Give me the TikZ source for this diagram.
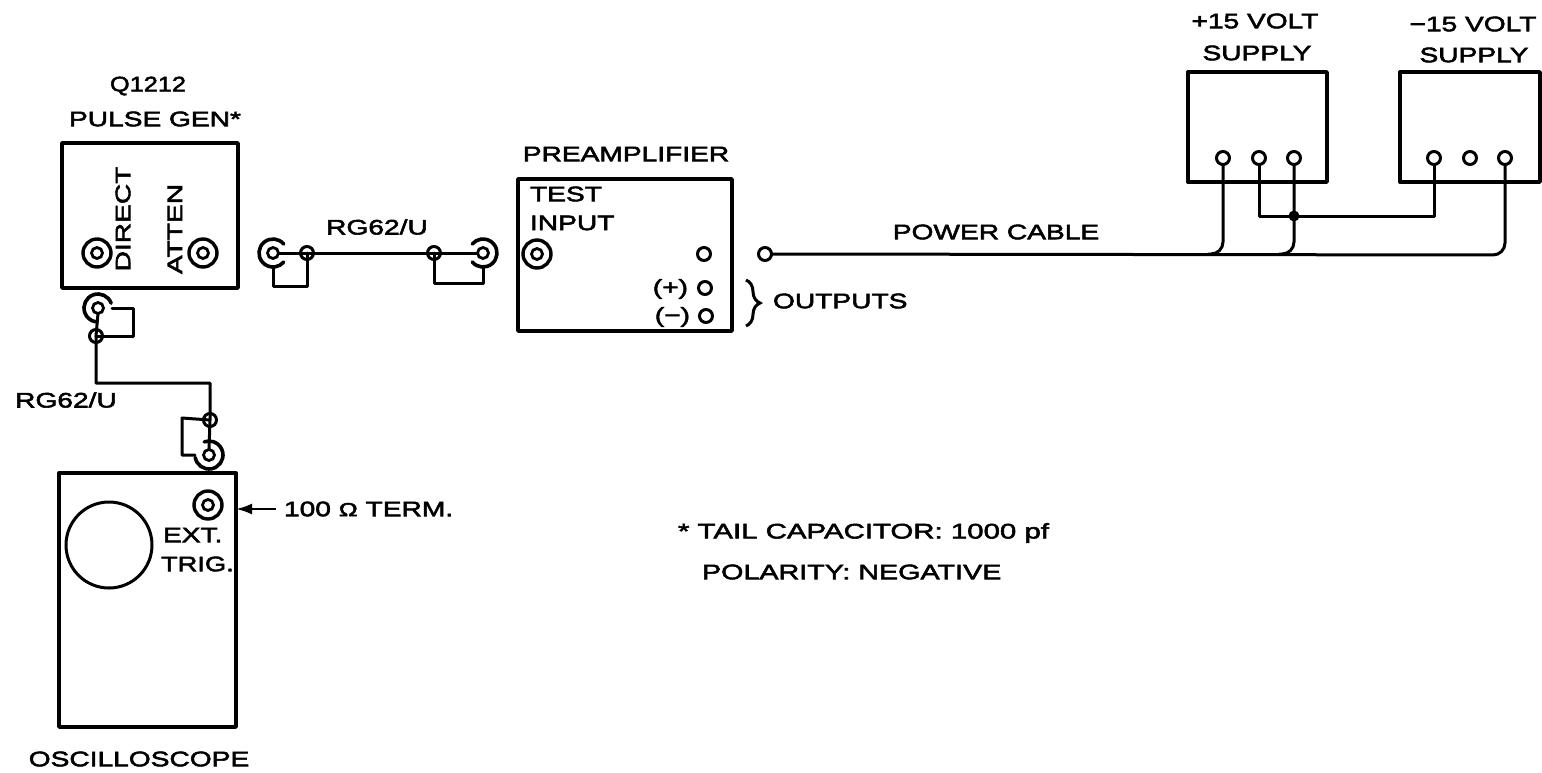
\documentclass[tikz,border=0pt]{standalone}
\usepackage{fontspec}
\setmainfont[FakeStretch=1.34,FakeBold=2.6]{Liberation Sans}
\usetikzlibrary{arrows.meta,decorations.pathreplacing}
\tikzset{
  wire/.style={line width=3pt,line cap=round,line join=round},
  box/.style={draw,line width=3.4pt,rectangle,inner sep=0pt,outer sep=0pt,line join=round},
  pinc/.style={draw,circle,line width=3pt,inner sep=0pt,outer sep=0pt,minimum size=13pt},
  jackin/.style={draw,circle,line width=2.8pt,inner sep=0pt,outer sep=0pt,minimum size=11pt},
  jackout/.style={draw,circle,line width=3.4pt,inner sep=0pt,outer sep=0pt,minimum size=28pt},
  ringn/.style={circle,inner sep=0pt,outer sep=0pt,minimum size=28pt},
  lab/.style={inner sep=0pt,outer sep=0pt,font=\fontsize{21}{24}\selectfont},
  dotn/.style={circle,fill,inner sep=0pt,minimum size=11pt}
}
\newcommand{\ringarc}[3]{\draw[line width=3.6pt,line cap=round] ([shift={(#2:14pt)}]#1) arc[start angle=#2,end angle=#3,radius=14pt];}
\begin{document}
\begin{tikzpicture}[x=1pt,y=-1pt]
\useasboundingbox (0,0) rectangle (1542,772);
% boxes
\node[box,minimum width=176pt,minimum height=145pt] (gen) at (150,215.5) {};
\node[box,minimum width=214pt,minimum height=152pt] (pre) at (625,255) {};
\node[box,minimum width=177pt,minimum height=254pt] (osc) at (147.5,600) {};
\node[box,minimum width=139pt,minimum height=110pt] (supA) at (1257.5,127) {};
\node[box,minimum width=140pt,minimum height=110pt] (supB) at (1470,127) {};
% box labels
\node[lab,xscale=.9] (tq) at (148,86) {Q1212};
\node[lab] (tpg) at (155,119) {PULSE GEN*};
\node[lab] (tpre) at (626,154) {PREAMPLIFIER};
\node[lab] (tp15a) at (1255,21) {+15 VOLT};
\node[lab] (tp15b) at (1257,53) {SUPPLY};
\node[lab] (tm15a) at (1473,24) {−15 VOLT};
\node[lab] (tm15b) at (1474,55) {SUPPLY};
\node[lab] (tosc) at (139,759) {OSCILLOSCOPE};
\node[lab,rotate=90] (tdir) at (123,219) {DIRECT};
\node[lab,rotate=90] (tatt) at (175,229) {ATTEN};
\node[lab,anchor=west] (ttest) at (530,194) {TEST};
\node[lab,anchor=west] (tinp) at (530,223) {INPUT};
\node[lab,anchor=east] (tplus) at (688,289) {(+)};
\node[lab,anchor=east] (tminus) at (690,317) {(−)};
\node[lab,anchor=west] (tout) at (773,301) {OUTPUTS};
\node[lab] (tpow) at (996,232) {POWER CABLE};
\node[lab] (trg1) at (377,227) {RG62/U};
\node[lab] (trg2) at (66,400) {RG62/U};
\node[lab,anchor=west] (text) at (163,535) {EXT.};
\node[lab,anchor=west,xscale=.97] (ttrig) at (161,564) {TRIG.};
\node[lab,anchor=west] (tterm) at (284,509) {100 {\fontsize{19}{19}\selectfont Ω} TERM.};
\node[lab,anchor=west,xscale=1.045] (tcap) at (678,533) {* TAIL CAPACITOR: 1000 pf};
\node[lab,anchor=west,xscale=1.02] (tpol) at (702,572) {POLARITY: NEGATIVE};
% panel jacks
\node[jackout] (dirO) at (97,253) {}; \node[jackin] (dirI) at (97,253) {};
\node[jackout] (attO) at (203,253) {}; \node[jackin] (attI) at (203,253) {};
\node[jackout] (preO) at (537,254) {}; \node[jackin] (preI) at (537,254) {};
\node[jackout] (trigO) at (208,505) {}; \node[jackin] (trigI) at (208,505) {};
\node[draw,circle,line width=3pt,minimum size=86pt,inner sep=0pt] (crt) at (109,545) {};
% preamp pins
\node[pinc] (p1) at (704,254) {};
\node[pinc] (p2) at (705,288) {};
\node[pinc] (p3) at (706,316) {};
\node[pinc] (free) at (765,254) {};
% supply pins
\node[pinc] (a1) at (1223,158) {};
\node[pinc] (a2) at (1259,158) {};
\node[pinc] (a3) at (1294,158) {};
\node[pinc] (b1) at (1434,158) {};
\node[pinc] (b2) at (1470,158) {};
\node[pinc] (b3) at (1505,158) {};
% top cable
\node[jackin] (l1) at (273,253) {}; \node[ringn] (l1r) at (273,253) {};
\node[pinc] (l2) at (307,253) {};
\node[pinc] (l3) at (434,253) {};
\node[jackin] (l4) at (483,253) {}; \node[ringn] (l4r) at (483,253) {};
\ringarc{l1.center}{40}{320}
\ringarc{l4.center}{-140}{140}
\draw[wire] (l1.east) -- (l4.west);
\coordinate (l1b) at (273,286);
\coordinate (l4b) at (434,283);
\draw[wire] (l1r.south) -- (l1b) -| (l2.center);
\draw[wire] (l3.center) -- (l4b) -| (l4r.south);
% lower cable
\node[jackin] (d1) at (98,308) {}; \node[ringn] (d1r) at (98,308) {};
\node[pinc] (d2) at (96,336) {};
\node[pinc] (d3) at (210,420) {};
\node[jackin] (d4) at (209,455) {}; \node[ringn] (d4r) at (209,455) {};
\ringarc{d1.center}{20}{260}
\ringarc{d4.center}{-170}{110}
\draw[wire] (d1.south) -- (d2.center);
\coordinate (dc) at (96,383);
\draw[wire] (d2.center) -- (dc) -| (d3.center) -- (d4.north);
\coordinate (dl1) at (133,308);
\coordinate (dl2) at (182,418);
\draw[wire] (d1r.east) -- (dl1) |- (d2.center);
\draw[wire] (d3.center) -- (dl2) |- (d4r.west);
% power wiring
\coordinate (jA) at (1208,254);
\coordinate (jB) at (1279,254);
\coordinate (jC) at (1505,255);
\coordinate (jD) at (1259,216);
\node[dotn] (dot) at (1294,216) {};
\draw[wire,rounded corners=12pt] (free.east) -- (jC) -- (b3.south);
\draw[wire,rounded corners=12pt] (a1.south) |- (jA);
\draw[wire,rounded corners=12pt] (a3.south) |- (jB);
\draw[wire] (a2.south) -- (jD) -| (b1.south);
% arrow, brace
\draw[line width=2.4pt,shorten <=8pt,-{Latex[length=16pt,width=11pt]}] (tterm.west) -- (osc.east |- tterm.west);
\draw[line width=3pt,decorate,decoration={brace,amplitude=14pt}] (746,280) -- (746,326);
\end{tikzpicture}
\end{document}
